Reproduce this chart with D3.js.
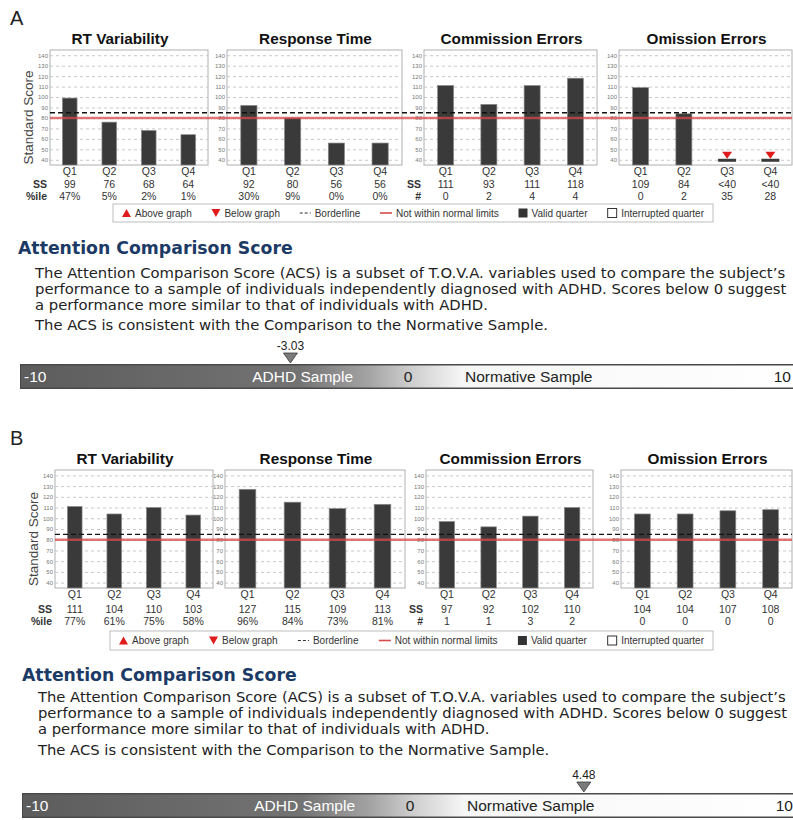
<!DOCTYPE html>
<html>
<head>
<meta charset="utf-8">
<script src="https://cdn.jsdelivr.net/npm/d3@7"></script>
<style>
  body { margin: 0; background: #fff; }
  svg { display: block; }
</style>
</head>
<body>
<script>
// ---- Data ----
const quarters = ["Q1", "Q2", "Q3", "Q4"];
const panelTitles = ["RT Variability", "Response Time", "Commission Errors", "Omission Errors"];
const yTicks = [40, 50, 60, 70, 80, 90, 100, 110, 120, 130, 140];
const borderlineScore = 85;
const normalLimitScore = 80;

// Session A
const aRtVarSS = [99, 76, 68, 64];
const aRtVarPct = ["47%", "5%", "2%", "1%"];
const aRespSS = [92, 80, 56, 56];
const aRespPct = ["30%", "9%", "0%", "0%"];
const aCommSS = [111, 93, 111, 118];
const aCommCount = ["0", "2", "4", "4"];
const aOmisSS = [109, 84, "<40", "<40"];
const aOmisCount = ["0", "2", "35", "28"];
const aACS = -3.03;

// Session B
const bRtVarSS = [111, 104, 110, 103];
const bRtVarPct = ["77%", "61%", "75%", "58%"];
const bRespSS = [127, 115, 109, 113];
const bRespPct = ["96%", "84%", "73%", "81%"];
const bCommSS = [97, 92, 102, 110];
const bCommCount = ["1", "1", "3", "2"];
const bOmisSS = [104, 104, 107, 108];
const bOmisCount = ["0", "0", "0", "0"];
const bACS = 4.48;

const legendLabels = ["Above graph", "Below graph", "Borderline", "Not within normal limits", "Valid quarter", "Interrupted quarter"];
const legendSymbols = ["up", "down", "dash", "red", "filled", "open"];

const acsHeading = "Attention Comparison Score";
const acsText = [
  "The Attention Comparison Score (ACS) is a subset of T.O.V.A. variables used to compare the subject\u2019s",
  "performance to a sample of individuals independently diagnosed with ADHD. Scores below 0 suggest",
  "a performance more similar to that of individuals with ADHD."
];
const acsNote = "The ACS is consistent with the Comparison to the Normative Sample.";
const acsTickValues = [-10, 0, 10];
const acsTickLabels = ["-10", "0", "10"];

const sessions = [
  { letter: "A", acs: aACS, panels: [
    { ss: aRtVarSS, sub: aRtVarPct, rows: ["SS", "%ile"] },
    { ss: aRespSS, sub: aRespPct, rows: null },
    { ss: aCommSS, sub: aCommCount, rows: ["SS", "#"] },
    { ss: aOmisSS, sub: aOmisCount, rows: null }
  ]},
  { letter: "B", acs: bACS, panels: [
    { ss: bRtVarSS, sub: bRtVarPct, rows: ["SS", "%ile"] },
    { ss: bRespSS, sub: bRespPct, rows: null },
    { ss: bCommSS, sub: bCommCount, rows: ["SS", "#"] },
    { ss: bOmisSS, sub: bOmisCount, rows: null }
  ]}
];

// ---- Layout ----
const W = 793, H = 820;
const layouts = [
  { letterY: 18, titleY: 39, top: 50, bottom: 165, yLabelX: 28,
    frames: [[50, 208], [227, 402], [424, 597], [619, 792]],
    ssY: 184, subY: 196, legend: [113, 204, 713, 222],
    headX: 18, headY: 248, paraX: 35, paraRight: 785, paraY: [273, 289, 305], noteY: 325,
    barX0: 20, barX1: 796, barY: 364, barH: 25 },
  { letterY: 438, titleY: 459, top: 470, bottom: 588, yLabelX: 33,
    frames: [[55, 213], [225, 405], [426, 593], [621, 792]],
    ssY: 609, subY: 621, legend: [110, 631, 713, 650],
    headX: 22, headY: 675, paraX: 38, paraRight: 786, paraY: [697, 713, 729], noteY: 750,
    barX0: 22, barX1: 798, barY: 793, barH: 25 }
];

const SANS = "'Liberation Sans', Arial, sans-serif";
const PARA = "'DejaVu Sans', Verdana, sans-serif";

const svg = d3.select("body").append("svg").attr("width", W).attr("height", H);
svg.append("rect").attr("width", W).attr("height", H).attr("fill", "#fff");

const defs = svg.append("defs");
const grad = defs.append("linearGradient").attr("id", "acsGrad").attr("x1", "0%").attr("x2", "100%");
[[0, "#5c5c5c"], [0.36, "#737373"], [0.45, "#a4a4a4"], [0.5, "#cbcbcb"], [0.57, "#f6f6f6"], [1, "#fff"]]
  .forEach(([o, c]) => grad.append("stop").attr("offset", o).attr("stop-color", c));

sessions.forEach((sess, si) => {
  const L = layouts[si];
  const g = svg.append("g");

  g.append("text").attr("x", 10).attr("y", L.letterY).attr("dy", "0.35em")
    .attr("font-family", SANS).attr("font-size", 20).attr("fill", "#222").text(sess.letter);

  const y = d3.scaleLinear().domain([35, 145]).range([L.bottom, L.top]);

  // y-axis title
  g.append("text")
    .attr("transform", `translate(${L.yLabelX},${(L.top + L.bottom) / 2 + 10}) rotate(-90)`)
    .attr("text-anchor", "middle").attr("dy", "0.35em")
    .attr("font-family", SANS).attr("font-size", 13.5).attr("fill", "#444")
    .text("Standard Score");

  sess.panels.forEach((p, i) => {
    const [x0, x1] = L.frames[i];
    const pg = g.append("g");
    const x = d3.scaleBand().domain(quarters).range([x0, x1]).paddingInner(0.63).paddingOuter(0.315);
    const cx = q => x(q) + x.bandwidth() / 2;

    // the first title is centred over the panel together with its axis label
    const tx = i === 0 ? (x0 + x1) / 2 - 9 : (x0 + x1) / 2 + 1;
    pg.append("text").attr("x", tx).attr("y", L.titleY).attr("dy", "0.35em")
      .attr("text-anchor", "middle").attr("font-family", SANS).attr("font-weight", "bold")
      .attr("font-size", 15.3).attr("fill", "#111").text(panelTitles[i]);

    pg.append("rect").attr("x", x0).attr("y", L.top).attr("width", x1 - x0).attr("height", L.bottom - L.top)
      .attr("fill", "#fff").attr("stroke", "#b0b0b0").attr("stroke-width", 1);

    // dashed grid
    const grid = pg.append("g").attr("transform", `translate(${x0},0)`)
      .call(d3.axisLeft(y).tickValues(yTicks).tickSize(-(x1 - x0)).tickFormat(""));
    grid.select(".domain").remove();
    grid.selectAll("line").attr("stroke", "#c8c8c8").attr("stroke-dasharray", "3,3");

    // tick labels
    const ax = pg.append("g").attr("transform", `translate(${x0},0)`)
      .call(d3.axisLeft(y).tickValues(yTicks).tickSize(0).tickPadding(2));
    ax.select(".domain").remove();
    ax.selectAll("text").attr("font-family", SANS).attr("font-size", 6).attr("fill", "#777");

    // bars
    p.ss.forEach((v, k) => {
      const q = quarters[k];
      if (typeof v === "number") {
        pg.append("rect").attr("x", x(q)).attr("y", y(v)).attr("width", x.bandwidth())
          .attr("height", L.bottom - y(v)).attr("fill", "#3a3a3a").attr("stroke", "#8a8a8a").attr("stroke-width", 0.7);
      } else {
        // score below the plotted range: stub at the floor with a red marker
        const yy = y(40);
        pg.append("rect").attr("x", cx(q) - 9).attr("y", yy - 1).attr("width", 18).attr("height", 3)
          .attr("fill", "#3a3a3a");
        pg.append("path").attr("d", `M${cx(q) - 5},${yy - 8}L${cx(q) + 5},${yy - 8}L${cx(q)},${yy - 1}Z`)
          .attr("fill", "#e01b1b");
      }
    });

    // quarter labels
    const bx = pg.append("g").attr("transform", `translate(0,${L.bottom})`)
      .call(d3.axisBottom(x).tickSize(0).tickPadding(3));
    bx.select(".domain").remove();
    bx.selectAll("text").attr("font-family", SANS).attr("font-size", 10.5).attr("fill", "#333");

    quarters.forEach((q, k) => {
      pg.append("text").attr("x", cx(q)).attr("y", L.ssY).attr("dy", "0.35em").attr("text-anchor", "middle")
        .attr("font-family", SANS).attr("font-size", 10.5).attr("fill", "#333").text(String(p.ss[k]));
      pg.append("text").attr("x", cx(q)).attr("y", L.subY).attr("dy", "0.35em").attr("text-anchor", "middle")
        .attr("font-family", SANS).attr("font-size", 10.5).attr("fill", "#333").text(p.sub[k]);
    });
    if (p.rows) {
      [L.ssY, L.subY].forEach((yy, r) => {
        pg.append("text").attr("x", x0 - 3).attr("y", yy).attr("dy", "0.35em").attr("text-anchor", "end")
          .attr("font-family", SANS).attr("font-weight", "bold").attr("font-size", 10.5).attr("fill", "#333")
          .text(p.rows[r]);
      });
    }
  });

  // reference lines across the row of panels
  const lx0 = L.frames[0][0], lx1 = L.frames[3][1];
  g.append("line").attr("x1", lx0).attr("x2", lx1).attr("y1", y(normalLimitScore)).attr("y2", y(normalLimitScore))
    .attr("stroke", "#d84a4a").attr("stroke-opacity", 0.75).attr("stroke-width", 2.6);
  g.append("line").attr("x1", lx0).attr("x2", lx1).attr("y1", y(borderlineScore)).attr("y2", y(borderlineScore))
    .attr("stroke", "#111").attr("stroke-width", 1.3).attr("stroke-dasharray", "5,3");

  // legend
  const [gx0, gy0, gx1, gy1] = L.legend;
  const lg = g.append("g");
  lg.append("rect").attr("x", gx0).attr("y", gy0).attr("width", gx1 - gx0).attr("height", gy1 - gy0)
    .attr("fill", "#fff").attr("stroke", "#bdbdbd");
  const ly = (gy0 + gy1) / 2;
  const texts = legendLabels.map(t => lg.append("text").attr("y", ly).attr("dy", "0.35em")
    .attr("font-family", SANS).attr("font-size", 10).attr("fill", "#333").text(t));
  const symW = [9, 9, 11, 12, 9, 10];
  const widths = texts.map(t => t.node().getComputedTextLength());
  const symGap = 4;
  const inner = d3.sum(widths) + d3.sum(symW) + symGap * 6;
  const span = (gx1 - gx0) - 18;
  const gap = (span - inner) / 5;
  let cur = gx0 + 9;
  legendSymbols.forEach((s, k) => {
    const sw = symW[k];
    if (s === "up") lg.append("path").attr("d", `M${cur},${ly + 4}L${cur + sw},${ly + 4}L${cur + sw / 2},${ly - 4}Z`).attr("fill", "#e01b1b");
    if (s === "down") lg.append("path").attr("d", `M${cur},${ly - 4}L${cur + sw},${ly - 4}L${cur + sw / 2},${ly + 4}Z`).attr("fill", "#e01b1b");
    if (s === "dash") lg.append("line").attr("x1", cur).attr("x2", cur + sw).attr("y1", ly).attr("y2", ly)
      .attr("stroke", "#333").attr("stroke-width", 1.2).attr("stroke-dasharray", "3,2");
    if (s === "red") lg.append("line").attr("x1", cur).attr("x2", cur + sw).attr("y1", ly).attr("y2", ly)
      .attr("stroke", "#d84a4a").attr("stroke-width", 1.6);
    if (s === "filled") lg.append("rect").attr("x", cur).attr("y", ly - 4.5).attr("width", 9).attr("height", 9).attr("fill", "#333");
    if (s === "open") lg.append("rect").attr("x", cur + 0.5).attr("y", ly - 4.5).attr("width", 9).attr("height", 9)
      .attr("fill", "#fff").attr("stroke", "#333");
    texts[k].attr("x", cur + sw + symGap);
    cur += sw + symGap + widths[k] + gap;
  });

  // Attention Comparison Score block
  g.append("text").attr("x", L.headX).attr("y", L.headY).attr("dy", "0.35em")
    .attr("font-family", PARA).attr("font-weight", "bold").attr("font-size", 17.3).attr("fill", "#1c3a66")
    .text(acsHeading);
  const paraLines = acsText.map((t, k) => g.append("text").attr("x", L.paraX).attr("y", L.paraY[k]).attr("dy", "0.35em")
    .attr("font-family", PARA).attr("font-size", 12.6).attr("fill", "#222").text(t));
  const note = g.append("text").attr("x", L.paraX).attr("y", L.noteY).attr("dy", "0.35em")
    .attr("font-family", PARA).attr("font-size", 12.6).attr("fill", "#222").text(acsNote);
  // size the body text so the first line fills the text column
  const fs = 12.6 * (L.paraRight - L.paraX) / paraLines[0].node().getComputedTextLength();
  paraLines.forEach(t => t.attr("font-size", fs));
  note.attr("font-size", fs);

  const ax2 = d3.scaleLinear().domain([-10, 10]).range([L.barX0, L.barX1]);
  const by = L.barY, bh = L.barH;
  g.append("rect").attr("x", L.barX0).attr("y", by).attr("width", L.barX1 - L.barX0).attr("height", bh)
    .attr("fill", "url(#acsGrad)");
  g.append("line").attr("x1", L.barX0).attr("x2", L.barX1).attr("y1", by + 0.75).attr("y2", by + 0.75)
    .attr("stroke", "#4a4a4a").attr("stroke-width", 1.5);
  g.append("line").attr("x1", L.barX0).attr("x2", L.barX1).attr("y1", by + bh - 0.75).attr("y2", by + bh - 0.75)
    .attr("stroke", "#4a4a4a").attr("stroke-width", 1.5);
  g.append("line").attr("x1", L.barX0 + 0.5).attr("x2", L.barX0 + 0.5).attr("y1", by).attr("y2", by + bh)
    .attr("stroke", "#4a4a4a").attr("stroke-width", 1);

  const midY = by + bh / 2;
  acsTickValues.forEach((v, k) => {
    const anchor = v === -10 ? "start" : v === 10 ? "end" : "middle";
    const xx = v === -10 ? ax2(v) + 4 : v === 10 ? ax2(v) - 5 : ax2(v);
    g.append("text").attr("x", xx).attr("y", midY).attr("dy", "0.35em").attr("text-anchor", anchor)
      .attr("font-family", SANS).attr("font-size", 15.5).attr("fill", v < 0 ? "#fff" : "#222").text(acsTickLabels[k]);
  });
  g.append("text").attr("x", ax2(0) - 55).attr("y", midY).attr("dy", "0.35em").attr("text-anchor", "end")
    .attr("font-family", SANS).attr("font-size", 15.5).attr("fill", "#fff").text("ADHD Sample");
  g.append("text").attr("x", ax2(0) + 57).attr("y", midY).attr("dy", "0.35em").attr("text-anchor", "start")
    .attr("font-family", SANS).attr("font-size", 15.5).attr("fill", "#222").text("Normative Sample");

  // score marker
  const mx = ax2(sess.acs);
  g.append("path").attr("d", `M${mx - 7},${by - 11}L${mx + 7},${by - 11}L${mx},${by - 1}Z`)
    .attr("fill", "#7a7a7a").attr("stroke", "#3a3a3a").attr("stroke-width", 0.8);
  g.append("text").attr("x", mx).attr("y", by - 18).attr("dy", "0.35em").attr("text-anchor", "middle")
    .attr("font-family", SANS).attr("font-size", 12).attr("fill", "#222").text(sess.acs.toFixed(2));
});
</script>
</body>
</html>
